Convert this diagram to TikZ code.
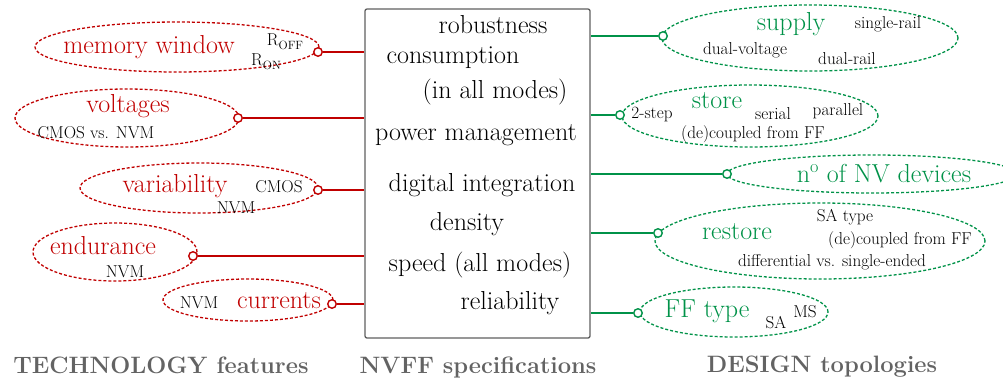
\documentclass[tikz,border=0pt]{standalone}
\usetikzlibrary{shapes.geometric}
\definecolor{tred}{RGB}{192,0,0}
\definecolor{dgreen}{RGB}{0,146,72}
\definecolor{tgray}{RGB}{99,99,99}
\definecolor{boxgray}{RGB}{95,95,95}
\newcommand{\lowtxt}[1]{\raisebox{-0.28em}{\fontsize{12}{13}\selectfont #1}}
\begin{document}
\begin{tikzpicture}[x=1pt,y=-1pt,
  big/.style={font=\fontsize{26}{28}\selectfont, inner sep=0pt, anchor=base},
  small/.style={font=\fontsize{17.2}{19}\selectfont, inner sep=0pt, anchor=base},
  titletxt/.style={font=\fontsize{23.7}{26}\selectfont\bfseries, text=tgray, inner sep=0pt, anchor=base},
  bubble/.style={ellipse, draw, line width=1.3pt, dash pattern=on 3pt off 2pt, inner sep=0pt},
  redbubble/.style={bubble, draw=tred},
  greenbubble/.style={bubble, draw=dgreen},
  port/.style={circle, draw, fill=white, line width=1.4pt, minimum size=8.5pt, inner sep=0pt},
  redport/.style={port, draw=tred},
  greenport/.style={port, draw=dgreen},
  redline/.style={draw=tred, line width=1.8pt},
  greenline/.style={draw=dgreen, line width=1.8pt},
  redtxt/.style={big, text=tred},
  greentxt/.style={big, text=dgreen}
]
\useasboundingbox (0,0) rectangle (1003,381);

% central box
\node[draw=boxgray, line width=1.3pt, rounded corners=2pt, minimum width=225pt, minimum height=329pt, inner sep=0pt] (spec) at (477.5,173.5) {};

% left bubbles
\node[redbubble, minimum width=284pt, minimum height=50pt] (mwE) at (177,47) {};
\node[redbubble, minimum width=224pt, minimum height=58pt] (voE) at (127,118) {};
\node[redbubble, minimum width=238pt, minimum height=50pt] (vaE) at (199,188) {};
\node[redbubble, minimum width=164pt, minimum height=58pt] (enE) at (115,252) {};
\node[redbubble, minimum width=170pt, minimum height=42pt] (cuE) at (248,300) {};

% right bubbles
\node[greenbubble, minimum width=296pt, minimum height=66pt] (suE) at (810,38) {};
\node[greenbubble, minimum width=256pt, minimum height=62pt] (stE) at (750,116) {};
\node[greenbubble, minimum width=290pt, minimum height=38pt] (nvE) at (872,174) {};
\node[greenbubble, minimum width=330pt, minimum height=76pt] (reE) at (820,241) {};
\node[greenbubble, minimum width=188pt, minimum height=50pt] (ffE) at (734,312) {};

% ports
\node[redport] (mwP) at (318,52) {};
\node[redport] (voP) at (238,118) {};
\node[redport] (vaP) at (318,190) {};
\node[redport] (enP) at (193,256) {};
\node[redport] (cuP) at (332,304) {};
\node[greenport] (suP) at (663,36) {};
\node[greenport] (stP) at (620,115) {};
\node[greenport] (nvP) at (727,174) {};
\node[greenport] (reP) at (658,233) {};
\node[greenport] (ffP) at (638,313) {};

% connectors
\draw[redline] (mwP) -- (mwP -| spec.west);
\draw[redline] (voP) -- (voP -| spec.west);
\draw[redline] (vaP) -- (vaP -| spec.west);
\draw[redline] (enP) -- (enP -| spec.west);
\draw[redline] (cuP) -- (cuP -| spec.west);
\draw[greenline] (suP) -- (suP -| spec.east);
\draw[greenline] (stP) -- (stP -| spec.east);
\draw[greenline] (nvP) -- (nvP -| spec.east);
\draw[greenline] (reP) -- (reP -| spec.east);
\draw[greenline] (ffP) -- (ffP -| spec.east);

% box texts
\node[big] (s1) at (493,33) {robustness};
\node[big] (s2) at (453,63) {consumption};
\node[big] (s3) at (495,98) {(in all modes)};
\node[big] (s4) at (476,140) {power management};
\node[big] (s5) at (482,191) {digital integration};
\node[big] (s6) at (467,230) {density};
\node[big] (s7) at (480,271) {speed (all modes)};
\node[big] (s8) at (510,309) {reliability};

% left texts
\node[redtxt] (mwT) at (149,53) {memory window};
\node[small] (roff) at (285,45) {R\lowtxt{OFF}};
\node[small] (ron) at (266,65) {R\lowtxt{ON}};
\node[redtxt] (voT) at (128,112) {voltages};
\node[small] (voS) at (96,138) {CMOS vs. NVM};
\node[redtxt] (vaT) at (175,192) {variability};
\node[small] (vaS1) at (279,192) {CMOS};
\node[small] (vaS2) at (236,213) {NVM};
\node[redtxt] (enT) at (103,254) {endurance};
\node[small] (enS) at (125,277) {NVM};
\node[small] (cuS) at (199,308) {NVM};
\node[redtxt] (cuT) at (279,308) {currents};

% right texts
\node[greentxt] (suT) at (791,30) {supply};
\node[small] (suS1) at (888,28) {single-rail};
\node[small] (suS2) at (745,54) {dual-voltage};
\node[small] (suS3) at (847,64) {dual-rail};
\node[greentxt] (stT) at (717,108) {store};
\node[small] (stS1) at (652,118) {2-step};
\node[small] (stS2) at (773,119) {serial};
\node[small] (stS3) at (838,115) {parallel};
\node[small] (stS4) at (753,138) {(de)coupled from FF};
\node[greentxt] (nvT) at (884,182) {n\textsuperscript{o} of NV devices};
\node[greentxt] (reT) at (737,239) {restore};
\node[small] (reS1) at (845,221) {SA type};
\node[small] (reS2) at (900,244) {(de)coupled from FF};
\node[small] (reS3) at (832,266) {differential vs. single-ended};
\node[greentxt] (ffT) at (707,317) {FF type};
\node[small] (ffS1) at (776,328) {SA};
\node[small] (ffS2) at (805,317) {MS};

% titles
\node[titletxt] (t1) at (161,373) {TECHNOLOGY features};
\node[titletxt] (t2) at (478,373) {NVFF specifications};
\node[titletxt] (t3) at (822,372) {DESIGN topologies};
\end{tikzpicture}
\end{document}
